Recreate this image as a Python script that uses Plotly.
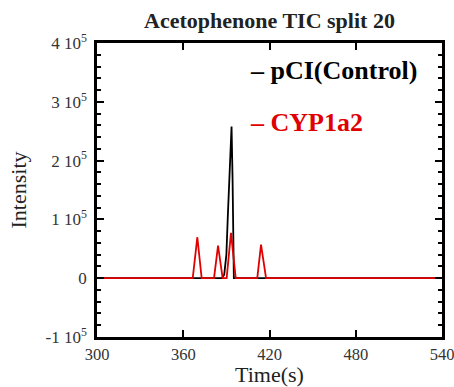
import plotly.graph_objects as go

# Time (s) and intensity values
control_time = [300, 386.8, 388.5, 390.0, 391.0, 392.0, 393.0, 393.6, 394.3, 395.2, 540]
control_int = [0, 0, 6000, 40000, 105000, 175000, 215000, 258000, 170000, 0, 0]

cyp_time = [300, 366.6, 369.8, 372.8, 381.4, 384.2, 387.4, 390.2, 393.2, 396.5, 411.5, 414.1, 417.6, 540]
cyp_int = [0, 0, 69700, 0, 0, 55300, 0, 0, 77000, 0, 0, 57000, 0, 0]

x_ticks = [300, 360, 420, 480, 540]
y_ticks = [-100000, 0, 100000, 200000, 300000, 400000]
y_tick_labels = ["-1 10<sup>5</sup>", "0", "1 10<sup>5</sup>", "2 10<sup>5</sup>",
                 "3 10<sup>5</sup>", "4 10<sup>5</sup>"]

series_names = ["pCI(Control)", "CYP1a2"]
series_colors = ["#000000", "#e00000"]

FONT = "Liberation Serif, Times New Roman, serif"

fig = go.Figure()
fig.add_trace(go.Scatter(x=control_time, y=control_int, mode="lines", name=series_names[0],
                         line=dict(color=series_colors[0], width=1.8), showlegend=False))
fig.add_trace(go.Scatter(x=cyp_time, y=cyp_int, mode="lines", name=series_names[1],
                         line=dict(color=series_colors[1], width=1.8), showlegend=False))

# legend-like labels
legend_y = [0.908, 0.731]
for nm, col, ly in zip(series_names, series_colors, legend_y):
    fig.add_annotation(x=0.437, y=ly, xref="paper", yref="paper",
                       xanchor="left", yanchor="middle", showarrow=False,
                       text="<b>\u2013 " + nm + "</b>",
                       font=dict(family=FONT, size=26, color=col))

fig.update_layout(
    width=454, height=387,
    margin=dict(l=97, r=12, t=43, b=50),
    paper_bgcolor="white", plot_bgcolor="white",
    font=dict(family=FONT, color="#333333"),
    title=dict(text="<b>Acetophenone TIC split 20</b>", x=0.5, xref="paper",
               y=1 - 20 / 387, yref="container", xanchor="center", yanchor="middle",
               font=dict(family=FONT, size=22, color="#222222")),
)
fig.update_xaxes(range=[300, 540], tickvals=x_ticks, ticks="inside", ticklen=7, tickwidth=2,
                 tickcolor="black", showline=True, linecolor="black", linewidth=2.5,
                 mirror="allticks", showgrid=False, zeroline=False, automargin=False,
                 ticklabeloverflow="allow",
                 tickfont=dict(family=FONT, size=16.5, color="#333333"),
                 title=dict(text="Time(s)", font=dict(family=FONT, size=22, color="#222222"),
                            standoff=6))
fig.update_yaxes(range=[-100000, 400000], tickvals=y_ticks, ticktext=y_tick_labels,
                 ticks="inside", ticklen=7, tickwidth=2, tickcolor="black",
                 minor=dict(dtick=20000, ticks="inside", ticklen=4, tickwidth=1.5, tickcolor="black"),
                 showline=True, linecolor="black", linewidth=2.5, mirror="allticks",
                 showgrid=False, zeroline=False, automargin=False, ticklabelstandoff=4,
                 ticklabeloverflow="allow",
                 tickfont=dict(family=FONT, size=17, color="#333333"),
                 title=dict(text="Intensity", font=dict(family=FONT, size=22, color="#222222"),
                            standoff=13))

fig.write_html("out.html", config={"displayModeBar": False},
               post_script="document.body.style.margin='0';document.body.style.overflow='hidden';")
